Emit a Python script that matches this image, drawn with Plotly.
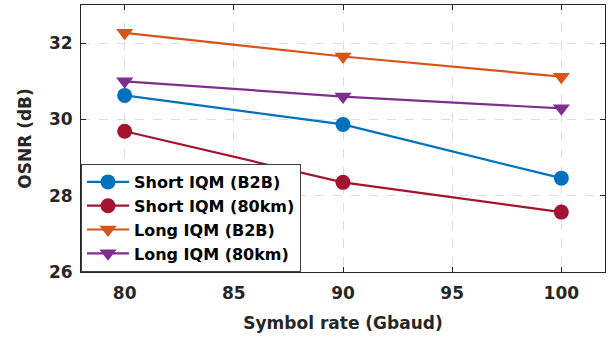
import plotly.graph_objects as go

symbol_rate = [80, 90, 100]
short_b2b = [30.63, 29.87, 28.46]
short_80km = [29.69, 28.35, 27.57]
long_b2b = [32.27, 31.65, 31.12]
long_80km = [31.00, 30.60, 30.29]

x_ticks = [80, 85, 90, 95, 100]
y_ticks = [26, 28, 30, 32]

series = [
    ("Short IQM (B2B)", short_b2b, "#0072BD", "circle"),
    ("Short IQM (80km)", short_80km, "#A2142F", "circle"),
    ("Long IQM (B2B)", long_b2b, "#D95319", "triangle-down"),
    ("Long IQM (80km)", long_80km, "#7E2F8E", "triangle-down"),
]

fig = go.Figure()
for name, ys, color, sym in series:
    fig.add_trace(go.Scatter(
        x=symbol_rate, y=ys, name=name, mode="lines+markers",
        line=dict(color=color, width=2.2),
        marker=dict(symbol=sym, size=15, color=color, line=dict(width=0)),
    ))

axis_font = dict(family="DejaVu Sans", size=17, color="#262626", weight="bold")

fig.update_layout(
    width=611, height=339,
    margin=dict(l=81, r=6, t=5, b=67),
    plot_bgcolor="white", paper_bgcolor="white",
    showlegend=True,
    legend=dict(
        x=0, y=0, xanchor="left", yanchor="bottom",
        bgcolor="white", bordercolor="#404040", borderwidth=1,
        font=dict(family="DejaVu Sans", size=16, color="black", weight="bold"),
        tracegroupgap=0, itemwidth=42,
    ),
    xaxis=dict(
        range=[78, 102], tickvals=x_ticks, ticktext=[str(v) for v in x_ticks],
        showgrid=True, gridcolor="#dddddd", griddash="dash", gridwidth=1,
        showline=True, linecolor="#262626", linewidth=1, mirror="ticks",
        ticks="inside", ticklen=5, tickcolor="#262626",
        tickfont=axis_font, zeroline=False, ticklabelstandoff=6,
        title=dict(text="Symbol rate (Gbaud)", font=axis_font, standoff=14),
    ),
    yaxis=dict(
        range=[26, 33], tickvals=y_ticks, ticktext=[str(v) for v in y_ticks],
        showgrid=True, gridcolor="#dddddd", griddash="dash", gridwidth=1,
        showline=True, linecolor="#262626", linewidth=1, mirror="ticks",
        ticks="inside", ticklen=5, tickcolor="#262626",
        tickfont=axis_font, zeroline=False, ticklabelstandoff=4,
        title=dict(text="OSNR (dB)", font=axis_font, standoff=12),
    ),
)

fig.write_html("out.html")
